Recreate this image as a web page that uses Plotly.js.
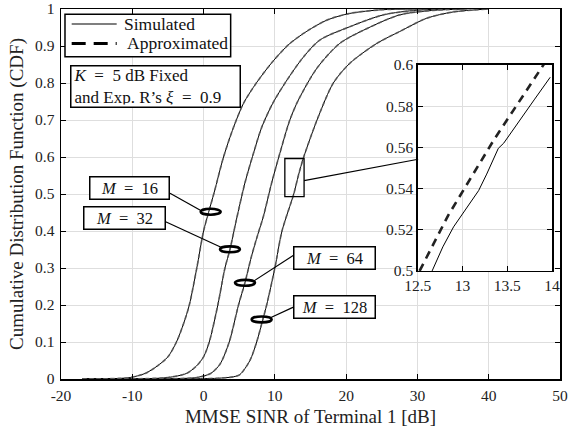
<!DOCTYPE html>
<html>
<head>
<meta charset="utf-8">
<script src="https://cdn.plot.ly/plotly-3.0.1.min.js"></script>
<style>
html,body{margin:0;padding:0;background:#fff;}
#chart{width:569px;height:430px;}
</style>
</head>
<body>
<div id="chart"></div>
<script>
// ---- Data ----
// CDF curves (simulated), x = MMSE SINR [dB], y = CDF
const x16 = [-17, -14, -12, -10.3, -8.2, -6.5, -5.0, -3.8, -2.8, -2.0, -0.95, 0.0, 0.7, 1.5, 2.8, 4.2, 5.6, 7.4, 9.7, 12.0, 14.5, 17.3, 20.5, 25, 30];
const y16 = [0, 0.0005, 0.0015, 0.004, 0.015, 0.035, 0.06, 0.1, 0.15, 0.2, 0.3, 0.4, 0.45, 0.505, 0.6, 0.68, 0.745, 0.8, 0.858, 0.905, 0.94, 0.97, 0.988, 0.998, 1];

const x32 = [-17, -12, -8, -5, -2.4, -1.0, 0.0, 0.8, 2.0, 3.0, 3.7, 4.6, 5.8, 7.0, 8.15, 9.7, 11.6, 14.0, 16.3, 20.5, 25.2, 30, 35];
const y32 = [0, 0.0003, 0.001, 0.004, 0.015, 0.035, 0.06, 0.1, 0.2, 0.3, 0.35, 0.43, 0.53, 0.61, 0.68, 0.745, 0.805, 0.87, 0.916, 0.952, 0.984, 0.997, 1];

const x64 = [-17, -8, -4, -1, 1.0, 2.3, 3.6, 4.9, 5.8, 6.7, 7.6, 8.4, 9.55, 10.7, 12.1, 13.3, 15.9, 19.1, 22.9, 27.5, 32, 37];
const y64 = [0, 0.0002, 0.001, 0.004, 0.015, 0.04, 0.1, 0.2, 0.26, 0.33, 0.39, 0.44, 0.53, 0.61, 0.70, 0.754, 0.84, 0.907, 0.947, 0.984, 0.996, 1];

const x128 = [-17, -5, 0, 2, 4.2, 5.1, 6.5, 7.45, 8.3, 8.85, 10.0, 11.0, 12.65, 13.3, 14.05, 16.1, 18.2, 20.5, 24.3, 27.5, 31.3, 35, 40];
const y128 = [0, 0.0002, 0.001, 0.002, 0.006, 0.012, 0.05, 0.1, 0.16, 0.2, 0.3, 0.4, 0.5, 0.55, 0.6, 0.709, 0.80, 0.853, 0.907, 0.939, 0.975, 0.992, 1];

// Zoomed inset (M = 128)
const insetSimX = [12.66, 12.78, 12.9, 13.05, 13.18, 13.27, 13.4, 13.46, 13.65, 13.8, 13.98];
const insetSimY = [0.5, 0.5117, 0.5214, 0.531, 0.539, 0.547, 0.5595, 0.562, 0.574, 0.583, 0.594];
const insetApxX = [12.52, 12.84, 13.35, 13.89, 13.95];
const insetApxY = [0.5, 0.527, 0.5636, 0.5992, 0.603];

const seriesLabels = ['M = 16', 'M = 32', 'M = 64', 'M = 128'];
const legendLabels = ['Simulated', 'Approximated'];
const xTicks = [-20, -10, 0, 10, 20, 30, 40, 50];
const yTicks = [0, 0.1, 0.2, 0.3, 0.4, 0.5, 0.6, 0.7, 0.8, 0.9, 1];
const insetXTicks = [12.5, 13, 13.5, 14];
const insetYTicks = [0.5, 0.52, 0.54, 0.56, 0.58, 0.6];

// ---- Build traces ----
const FONT = "'Liberation Serif', 'Times New Roman', serif";
const curves = [[x16, y16], [x32, y32], [x64, y64], [x128, y128]];
const traces = [];
curves.forEach(function (c) {
  traces.push({
    x: c[0], y: c[1], type: 'scatter', mode: 'lines',
    line: {color: '#000', width: 1, shape: 'spline', smoothing: 0.8},
    name: legendLabels[0], showlegend: false, hoverinfo: 'skip'
  });
});
curves.forEach(function (c) {
  traces.push({
    x: c[0], y: c[1], type: 'scatter', mode: 'lines',
    line: {color: 'rgba(90,90,90,0.8)', width: 1.7, dash: '4px,3px', shape: 'spline', smoothing: 0.8},
    name: legendLabels[1], showlegend: false, hoverinfo: 'skip'
  });
});
// inset traces
traces.push({
  x: insetSimX, y: insetSimY, xaxis: 'x2', yaxis: 'y2', type: 'scatter', mode: 'lines',
  line: {color: '#000', width: 1}, showlegend: false, hoverinfo: 'skip'
});
traces.push({
  x: insetApxX, y: insetApxY, xaxis: 'x2', yaxis: 'y2', type: 'scatter', mode: 'lines',
  line: {color: '#222', width: 2.6, dash: '8px,6px'}, showlegend: false, hoverinfo: 'skip'
});

// ---- Layout ----
const axisCommon = {
  showline: true, linecolor: '#000', linewidth: 1.5, mirror: 'ticks',
  ticks: 'inside', ticklen: 5, tickwidth: 1, tickcolor: '#000',
  showgrid: true, gridcolor: '#dedede', gridwidth: 1, zeroline: false,
  tickfont: {family: FONT, size: 15.5, color: '#222'}
};

const ellipses = [
  {cx: 0.99, cy: 0.452},
  {cx: 3.70, cy: 0.3505},
  {cx: 5.81, cy: 0.260},
  {cx: 8.15, cy: 0.161}
];
const shapes = ellipses.map(function (e) {
  return {type: 'circle', xref: 'x', yref: 'y', x0: e.cx - 1.4, x1: e.cx + 1.4,
    y0: e.cy - 0.008, y1: e.cy + 0.008, line: {color: '#000', width: 2.6}, layer: 'above'};
});
// connectors from labels to ellipses
const connectors = [
  [-4.71, 0.502, -0.45, 0.456],
  [-5.32, 0.425, 2.45, 0.356],
  [6.9, 0.263, 12.68, 0.335],
  [9.3, 0.165, 12.68, 0.195]
];
connectors.forEach(function (c) {
  shapes.push({type: 'line', xref: 'x', yref: 'y', x0: c[0], y0: c[1], x1: c[2], y1: c[3],
    line: {color: '#000', width: 1.2}});
});
// zoom rectangle and its connector
shapes.push({type: 'rect', xref: 'x', yref: 'y', x0: 11.4, x1: 14.1, y0: 0.493, y1: 0.596,
  line: {color: '#000', width: 1.3}});
shapes.push({type: 'line', xref: 'x', yref: 'y', x0: 14.1, y0: 0.536, x1: 30.1, y1: 0.594,
  line: {color: '#000', width: 1.2}});

// legend box (drawn in paper coordinates)
shapes.push({type: 'rect', xref: 'paper', yref: 'paper', x0: 0.008, x1: 0.340, y0: 0.871, y1: 0.986,
  line: {color: '#000', width: 1.5}, fillcolor: '#fff', layer: 'above'});
shapes.push({type: 'line', xref: 'paper', yref: 'paper', x0: 0.0214, x1: 0.1116, y0: 0.9595, y1: 0.9595,
  line: {color: '#000', width: 1.2}, layer: 'above'});
shapes.push({type: 'line', xref: 'paper', yref: 'paper', x0: 0.0214, x1: 0.1116, y0: 0.907, y1: 0.907,
  line: {color: '#000', width: 3, dash: '14px,8px'}, layer: 'above'});

const labelPos = [
  {x: -10.42, y: 0.517, w: 76},
  {x: -11.14, y: 0.434, w: 78},
  {x: 18.43, y: 0.327, w: 78},
  {x: 18.43, y: 0.195, w: 78}
];
const annotations = seriesLabels.map(function (t, i) {
  const parts = t.split(' = ');
  return {
    x: labelPos[i].x, y: labelPos[i].y, xref: 'x', yref: 'y', showarrow: false,
    text: '<i>' + parts[0] + '</i>\u2002=\u2002' + parts[1],
    font: {family: FONT, size: 16.5, color: '#111'},
    bordercolor: '#000', borderwidth: 1.5, borderpad: 1, bgcolor: '#fff',
    width: labelPos[i].w, height: 19, align: 'center'
  };
});
annotations.push({
  x: -6.8, y: 0.79, xref: 'x', yref: 'y', showarrow: false,
  text: '<i>K</i>\u2002=\u20025 dB Fixed<br>and Exp. R\u2019s <i>\u03be</i>\u2002=\u20020.9',
  font: {family: FONT, size: 17, color: '#111'}, align: 'left',
  bordercolor: '#000', borderwidth: 1.5, borderpad: 2, bgcolor: '#fff',
  width: 164, height: 36
});
annotations.push({
  x: 0.1216, y: 0.9595, xref: 'paper', yref: 'paper', xanchor: 'left', yanchor: 'middle',
  showarrow: false, text: legendLabels[0], font: {family: FONT, size: 17.5, color: '#111'}
});
annotations.push({
  x: 0.128, y: 0.907, xref: 'paper', yref: 'paper', xanchor: 'left', yanchor: 'middle',
  showarrow: false, text: legendLabels[1], font: {family: FONT, size: 17.5, color: '#111'}
});

const layout = {
  width: 569, height: 430,
  margin: {l: 61, r: 9, t: 9, b: 51},
  paper_bgcolor: '#fff', plot_bgcolor: '#fff',
  font: {family: FONT, color: '#222'},
  showlegend: false,
  xaxis: Object.assign({}, axisCommon, {
    range: [-20, 50], tickvals: xTicks, ticktext: xTicks.map(String), ticklabelstandoff: 2,
    title: {text: 'MMSE SINR of Terminal 1 [dB]', font: {family: FONT, size: 19, color: '#222'}, standoff: 6}
  }),
  yaxis: Object.assign({}, axisCommon, {
    range: [0, 1], tickvals: yTicks, ticktext: yTicks.map(String), ticklabelstandoff: 2,
    title: {text: 'Cumulative Distribution Function (CDF)', font: {family: FONT, size: 19, color: '#222'}, standoff: 6}
  }),
  xaxis2: Object.assign({}, axisCommon, {
    domain: [0.715, 0.984], anchor: 'y2', range: [12.5, 14],
    tickvals: insetXTicks, ticktext: insetXTicks.map(String)
  }),
  yaxis2: Object.assign({}, axisCommon, {
    domain: [0.292, 0.849], anchor: 'x2', range: [0.5, 0.6],
    tickvals: insetYTicks, ticktext: insetYTicks.map(String)
  }),
  shapes: shapes,
  annotations: annotations
};

Plotly.newPlot('chart', traces, layout, {displayModeBar: false, staticPlot: true});
</script>
</body>
</html>
